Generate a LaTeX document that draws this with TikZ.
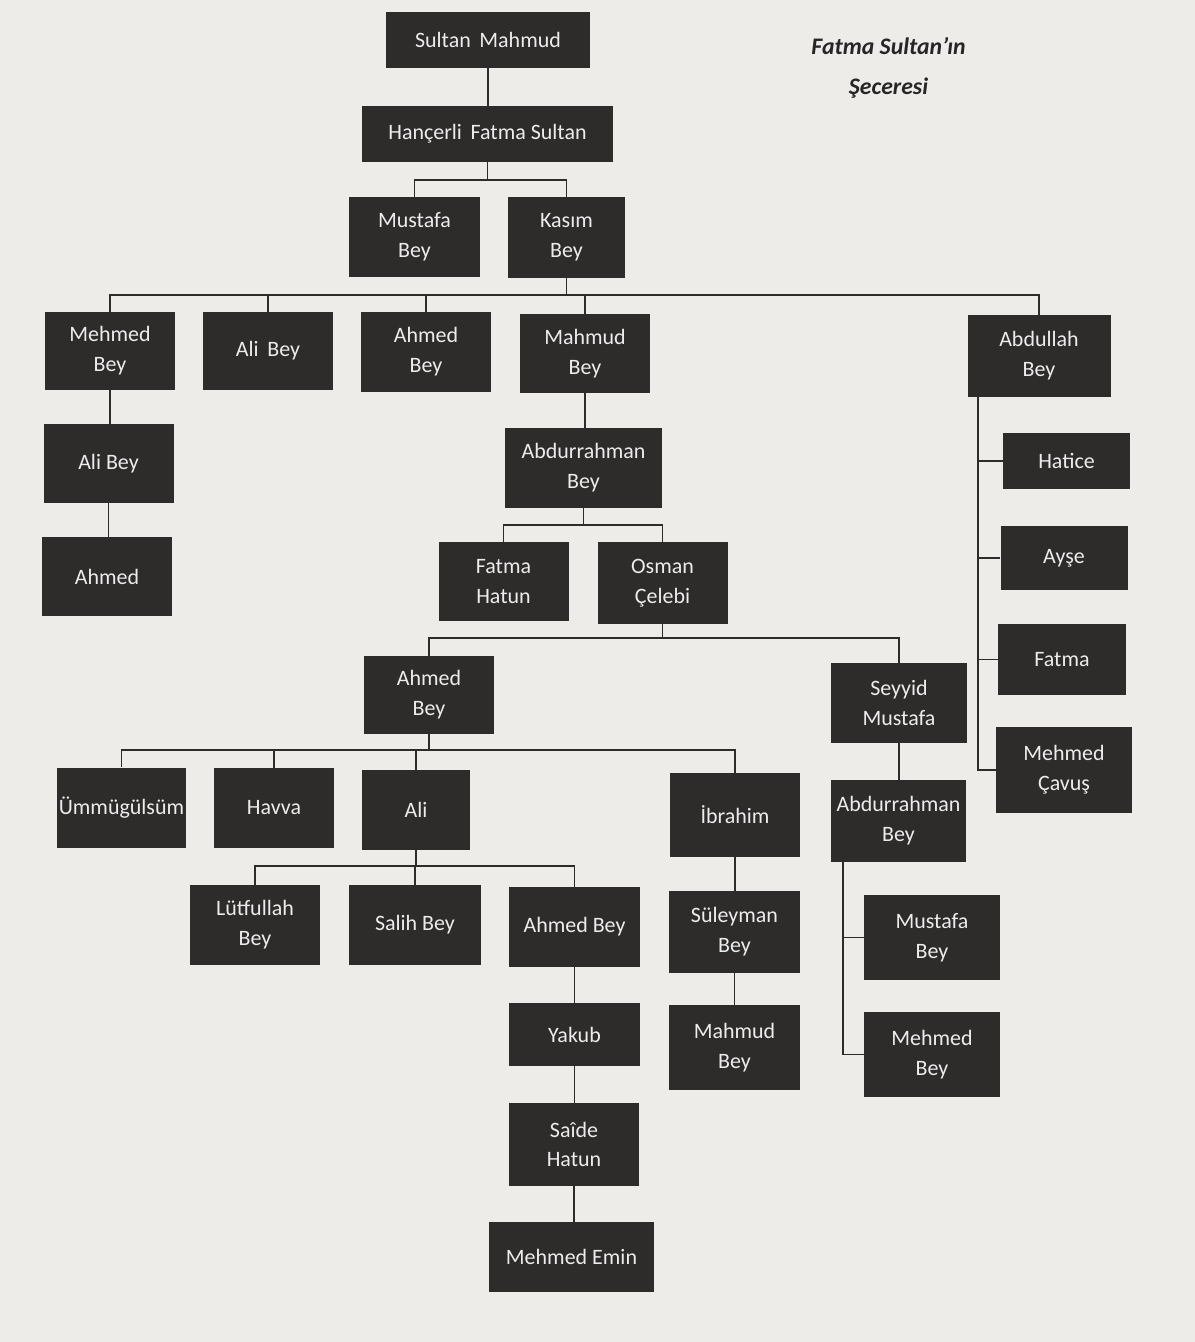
\documentclass[tikz,border=0pt]{standalone}
\usepackage{fontspec}
\setmainfont{Carlito}
\definecolor{sayfa}{RGB}{237,236,233}
\definecolor{kutu}{RGB}{46,43,43}
\definecolor{yazi}{RGB}{236,236,236}
\tikzset{
  kisi/.style={fill=kutu,text=yazi,align=center,inner sep=0pt,
    minimum width=2.6cm,minimum height=1.6cm,
    font=\fontsize{12.5}{17}\selectfont},
  hat/.style={draw=kutu,line width=1.1pt}
}

\begin{document}
\begin{tikzpicture}
  \fill[sayfa](0,0) rectangle (23.9,-26.84);
  \useasboundingbox(0,0) rectangle (23.9,-26.84);

  \node[font=\fontsize{13.5}{22.5}\selectfont\bfseries\itshape,align=center,text=black!85] (baslik) at (17.77,-1.36) {Fatma Sultan'ın\\Şeceresi};

  % ust kusaklar
  \node[kisi,minimum width=4.08cm,minimum height=1.12cm] (sultan) at (9.76,-0.80) {Sultan\, Mahmud};
  \node[kisi,minimum width=5.02cm,minimum height=1.12cm] (hancerli) at (9.75,-2.68) {Hançerli\, Fatma Sultan};
  \node[kisi,minimum width=2.62cm] (mustafa) at (8.29,-4.74) {Mustafa\\Bey};
  \node[kisi,minimum width=2.34cm,minimum height=1.62cm] (kasim) at (11.33,-4.75) {Kasım\\Bey};

  \node[kisi,minimum height=1.56cm] (mehmed) at (2.20,-7.02) {Mehmed\\Bey};
  \node[kisi,minimum height=1.56cm] (alibey) at (5.36,-7.02) {Ali\, Bey};
  \node[kisi] (ahmedbey) at (8.52,-7.04) {Ahmed\\Bey};
  \node[kisi,minimum height=1.58cm] (mahmud) at (11.70,-7.07) {Mahmud\\Bey};
  \node[kisi,minimum width=2.86cm,minimum height=1.64cm] (abdullah) at (20.78,-7.12) {Abdullah\\Bey};

  \node[kisi,minimum height=1.58cm] (alibeyb) at (2.17,-9.27) {Ali Bey};
  \node[kisi,minimum height=1.58cm] (ahmed) at (2.14,-11.53) {Ahmed};

  \node[kisi,minimum width=3.14cm] (abdurrahman) at (11.67,-9.36) {Abdurrahman\\Bey};
  \node[kisi,minimum height=1.58cm] (fatmahatun) at (10.07,-11.63) {Fatma\\Hatun};
  \node[kisi,minimum height=1.64cm] (osman) at (13.25,-11.66) {Osman\\Çelebi};

  \node[kisi,minimum height=1.56cm] (ahmedbeyb) at (8.58,-13.90) {Ahmed\\Bey};
  \node[kisi,minimum width=2.72cm] (seyyid) at (17.98,-14.06) {Seyyid\\Mustafa};

  \node[kisi,minimum width=2.58cm] (ummu) at (2.43,-16.15) {Ümmügülsüm};
  \node[kisi,minimum width=2.4cm] (havva) at (5.48,-16.16) {Havva};
  \node[kisi,minimum width=2.16cm] (ali) at (8.32,-16.20) {Ali};
  \node[kisi,minimum height=1.68cm] (ibrahim) at (14.70,-16.30) {İbrahim};
  \node[kisi,minimum width=2.7cm,minimum height=1.64cm] (abdurrahmanb) at (17.97,-16.42) {Abdurrahman\\Bey};

  \node[kisi] (lutfullah) at (5.10,-18.50) {Lütfullah\\Bey};
  \node[kisi,minimum width=2.64cm] (salih) at (8.30,-18.50) {Salih Bey};
  \node[kisi,minimum width=2.62cm] (ahmedbeyc) at (11.49,-18.54) {Ahmed Bey};
  \node[kisi,minimum width=2.62cm,minimum height=1.64cm] (suleyman) at (14.69,-18.64) {Süleyman\\Bey};
  \node[kisi,minimum width=2.62cm,minimum height=1.7cm] (mahmudb) at (14.69,-20.95) {Mahmud\\Bey};
  \node[kisi,minimum width=2.72cm,minimum height=1.7cm] (mustafab) at (18.64,-18.75) {Mustafa\\Bey};
  \node[kisi,minimum width=2.72cm,minimum height=1.7cm] (mehmedb) at (18.64,-21.09) {Mehmed\\Bey};

  \node[kisi,minimum width=2.62cm,minimum height=1.26cm] (yakub) at (11.49,-20.69) {Yakub};
  \node[kisi,minimum height=1.66cm] (saide) at (11.48,-22.89) {Saîde\\Hatun};
  \node[kisi,minimum width=3.3cm,minimum height=1.4cm] (emin) at (11.43,-25.14) {Mehmed Emin};

  \node[kisi,minimum width=2.54cm,minimum height=1.12cm] (hatice) at (21.33,-9.22) {Hatice};
  \node[kisi,minimum width=2.54cm,minimum height=1.28cm] (ayse) at (21.28,-11.16) {Ayşe};
  \node[kisi,minimum width=2.56cm,minimum height=1.42cm] (fatma) at (21.24,-13.19) {Fatma};
  \node[kisi,minimum width=2.72cm,minimum height=1.72cm] (cavus) at (21.28,-15.40) {Mehmed\\Çavuş};

  % baglantilar
  \coordinate (b1) at (0,-3.60);
  \coordinate (b2) at (0,-5.90);
  \coordinate (b3) at (0,-10.50);
  \coordinate (b4) at (0,-12.76);
  \coordinate (b5) at (0,-15.00);
  \coordinate (b6) at (0,-17.32);

  \draw[hat](sultan.south) -- (sultan.south |- hancerli.north);
  \draw[hat](hancerli.south) -- (hancerli.south |- b1);
  \draw[hat](mustafa.north) -- (mustafa.north |- b1) -- (kasim.north |- b1) -- (kasim.north);

  \draw[hat](kasim.south) -- (kasim.south |- b2);
  \draw[hat](mehmed.north) -- (mehmed.north |- b2) -- (abdullah.north |- b2) -- (abdullah.north);
  \foreach \k in {alibey,ahmedbey,mahmud}
    \draw[hat](\k.north) -- (\k.north |- b2);

  \draw[hat](mehmed.south) -- (mehmed.south |- alibeyb.north);
  \draw[hat](alibeyb.south) -- (alibeyb.south |- ahmed.north);
  \draw[hat](mahmud.south) -- (mahmud.south |- abdurrahman.north);

  \draw[hat](abdurrahman.south) -- (abdurrahman.south |- b3);
  \draw[hat](fatmahatun.north) -- (fatmahatun.north |- b3) -- (osman.north |- b3) -- (osman.north);

  \draw[hat](osman.south) -- (osman.south |- b4);
  \draw[hat](ahmedbeyb.north) -- (ahmedbeyb.north |- b4) -- (seyyid.north |- b4) -- (seyyid.north);

  \draw[hat](ahmedbeyb.south) -- (ahmedbeyb.south |- b5);
  \draw[hat](ummu.north) -- (ummu.north |- b5) -- (ibrahim.north |- b5) -- (ibrahim.north);
  \foreach \k in {havva,ali}
    \draw[hat](\k.north) -- (\k.north |- b5);
  \draw[hat](seyyid.south) -- (seyyid.south |- abdurrahmanb.north);

  \draw[hat](ali.south) -- (ali.south |- b6);
  \draw[hat](lutfullah.north) -- (lutfullah.north |- b6) -- (ahmedbeyc.north |- b6) -- (ahmedbeyc.north);
  \draw[hat](salih.north) -- (salih.north |- b6);

  \draw[hat](ibrahim.south) -- (ibrahim.south |- suleyman.north);
  \draw[hat](suleyman.south) -- (suleyman.south |- mahmudb.north);
  \draw[hat](ahmedbeyc.south) -- (ahmedbeyc.south |- yakub.north);
  \draw[hat](yakub.south) -- (yakub.south |- saide.north);
  \draw[hat](saide.south) -- (saide.south |- emin.north);

  \coordinate (r1) at ([xshift=2.4mm]abdurrahmanb.south west);
  \draw[hat](r1) |- (mehmedb.west);
  \draw[hat](mustafab.west) -- (mustafab.west -| r1);

  \coordinate (r2) at ([xshift=2.2mm]abdullah.south west);
  \draw[hat](r2) |- (cavus.west);
  \foreach \k in {hatice,ayse,fatma}
    \draw[hat](\k.west) -- (\k.west -| r2);
\end{tikzpicture}
\end{document}
